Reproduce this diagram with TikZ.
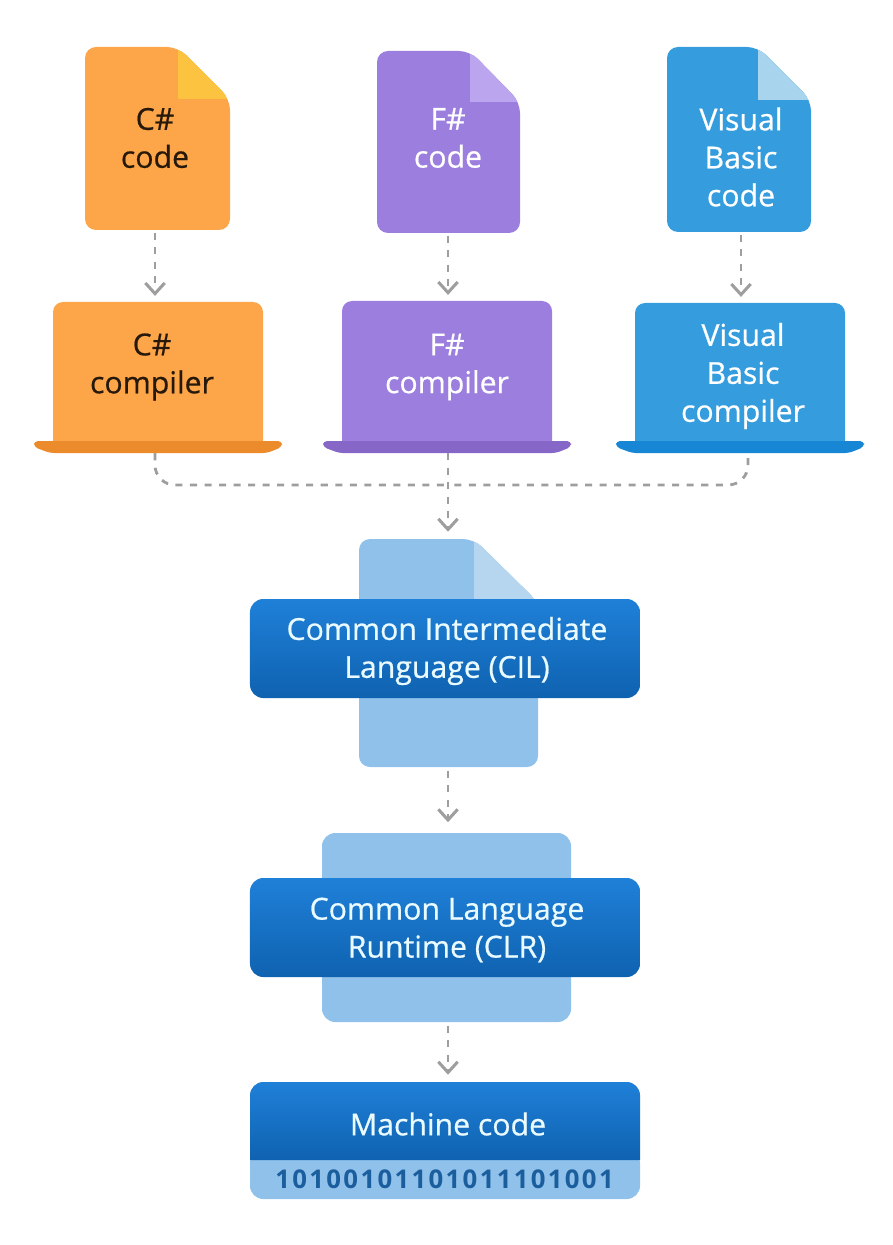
\documentclass[tikz,border=0pt]{standalone}
\usepackage{fontspec}
\setmainfont{Open Sans}[FakeBold=0.6]
\newfontfamily\bitsfont[LetterSpace=9]{Open Sans}
\usepackage{xcolor}
\usetikzlibrary{arrows.meta, positioning, fit}

\definecolor{csorange}{HTML}{FDA549}
\definecolor{csfold}{HTML}{FBC33F}
\definecolor{csbase}{HTML}{EC8B2B}
\definecolor{fspurple}{HTML}{9B7EDE}
\definecolor{fsfold}{HTML}{BBA5EF}
\definecolor{fsbase}{HTML}{8666C6}
\definecolor{vbblue}{HTML}{359DDE}
\definecolor{vbfold}{HTML}{A9D4EE}
\definecolor{vbbase}{HTML}{1787D5}
\definecolor{paleblue}{HTML}{8FC1EB}
\definecolor{palefold}{HTML}{B5D6EE}
\definecolor{bandtop}{HTML}{1F80D8}
\definecolor{bandbottom}{HTML}{0F62B0}
\definecolor{bitsblue}{HTML}{1B5E9E}
\definecolor{flowgray}{HTML}{9E9E9E}
\definecolor{bandtext}{HTML}{EAFBFF}

% name, body, fold, left, top, right, bottom, fold x, fold y
\newcommand{\codefile}[9]{
    \begin{scope}[rounded corners=0.33cm]
        \fill[#2] (#4,#7) -- (#4,#5) -- (#8,#5) -- (#6,#9) -- (#6,#7) -- cycle;
        \clip (#4,#7) -- (#4,#5) -- (#8,#5) -- (#6,#9) -- (#6,#7) -- cycle;
        \fill[#3, sharp corners] (#8,#5) rectangle (#6,#9);
    \end{scope}
    \node[fit={(#4,#5) (#6,#7)}, inner sep=0pt] (#1) {};
}
% name, body, base, left, top, right, bottom
\newcommand{\compilerbody}[7]{
    \fill[#2] (#4,#7+2) [rounded corners=0.3cm] -- (#4,#5) -- (#6,#5) [sharp corners] -- (#6,#7+2) -- cycle;
    \fill[#3, rounded corners=0.12cm] (#4-19,#7+1) -- (#6+19,#7+1) -- (#6+19,#7+7) -- (#6+4,#7+13) -- (#4-3,#7+13) -- (#4-19,#7+7) -- cycle;
    \node[fit={(#4,#5) (#6,#7+13)}, inner sep=0pt] (#1) {};
}

\begin{document}
\begin{tikzpicture}[
        x=0.03cm, y=-0.03cm,
        label/.style={align=center, inner sep=0pt, font=\fontsize{25.8}{32.4}\selectfont},
        dark/.style={label, text=black!85!csorange},
        light/.style={label, text=white},
        band/.style={rectangle, rounded corners=0.4cm, top color=bandtop, bottom color=bandbottom, minimum width=11.7cm, minimum height=2.97cm},
        flow/.style={-{Straight Barb[length=3.2mm, width=5.8mm, line width=2.6pt]}, line width=2.4pt, color=flowgray, dash pattern=on 6pt off 6.4pt},
        merge/.style={line width=2.4pt, color=flowgray, dash pattern=on 6pt off 6.4pt, rounded corners=0.6cm}
    ]
    \useasboundingbox (0,0) rectangle (892,1245);

    % Source files
    \codefile{cs_file}{csorange}{csfold}{85}{47}{230}{230}{178}{99}
    \codefile{fs_file}{fspurple}{fsfold}{377}{51}{520}{233}{470}{102}
    \codefile{vb_file}{vbblue}{vbfold}{667}{47}{811}{232}{758}{100}
    \node[dark] (cs_code) at (155,138) {C\#\\code};
    \node[light] (fs_code) at (448,138) {F\#\\code};
    \node[light] (vb_code) at (741,157) {Visual\\Basic\\code};

    % Compilers
    \compilerbody{cs_compiler}{csorange}{csbase}{53}{302}{263}{440}
    \compilerbody{fs_compiler}{fspurple}{fsbase}{342}{301}{552}{440}
    \compilerbody{vb_compiler}{vbblue}{vbbase}{635}{303}{845}{440}
    \node[dark] (cs_label) at (152,367) {C\#\\compiler};
    \node[light] (fs_label) at (447,367) {F\#\\compiler};
    \node[light] (vb_label) at (743,376) {Visual\\Basic\\compiler};

    % Intermediate language
    \codefile{cil_file}{paleblue}{palefold}{359}{539}{538}{767}{474}{602}
    \node[band] (cil) at (445,648.5) {};
    \node[label, text=bandtext] (cil_label) at (447,651) {Common Intermediate\\Language (CIL)};

    % Runtime
    \node[rectangle, rounded corners=0.4cm, fill=paleblue, minimum width=7.47cm, minimum height=5.67cm] (clr_back) at (446.5,927.5) {};
    \node[band] (clr) at (445,927.5) {};
    \node[label, text=bandtext] (clr_label) at (447,930) {Common Language\\Runtime (CLR)};

    % Machine code
    \fill[paleblue, rounded corners=0.4cm] (250,1150) rectangle (640,1199);
    \path[top color=bandtop, bottom color=bandbottom] (250,1160) [rounded corners=0.4cm] -- (250,1082) -- (640,1082) [sharp corners] -- (640,1160) -- cycle;
    \node[fit={(250,1082) (640,1199)}, inner sep=0pt] (machine) {};
    \node[label, text=bandtext] (machine_label) at (448,1124) {Machine code};
    \node[inner sep=0pt, text=bitsblue, font=\bitsfont\bfseries\fontsize{22}{24}\selectfont] (bits) at (444.5,1179) {10100101101011101001};

    % Merge points
    \coordinate (merge) at (448,485);
    \coordinate (vb_out) at (748,458);

    % File to compiler
    \draw[flow, shorten <=2pt, shorten >=5pt] (cs_file.south -| cs_code) -- (cs_compiler.north -| cs_code);
    \draw[flow, shorten <=2pt, shorten >=5pt] (fs_file.south -| fs_code) -- (fs_compiler.north -| fs_code);
    \draw[flow, shorten <=2pt, shorten >=5pt] (vb_file.south -| vb_code) -- (vb_compiler.north -| vb_code);

    % Compilers to CIL
    \draw[merge] (cs_compiler.south -| cs_code) |- (merge);
    \draw[merge] (vb_out) |- (merge);
    \draw[flow, shorten >=6pt] (fs_compiler.south -| merge) -- (cil_file.north -| merge);

    % Down to machine code
    \draw[flow, shorten <=3pt, shorten >=9pt] (cil_file.south -| merge) -- (clr_back.north -| merge);
    \draw[flow, shorten <=3pt, shorten >=6pt] (clr_back.south -| merge) -- (machine.north -| merge);

\end{tikzpicture}
\end{document}
